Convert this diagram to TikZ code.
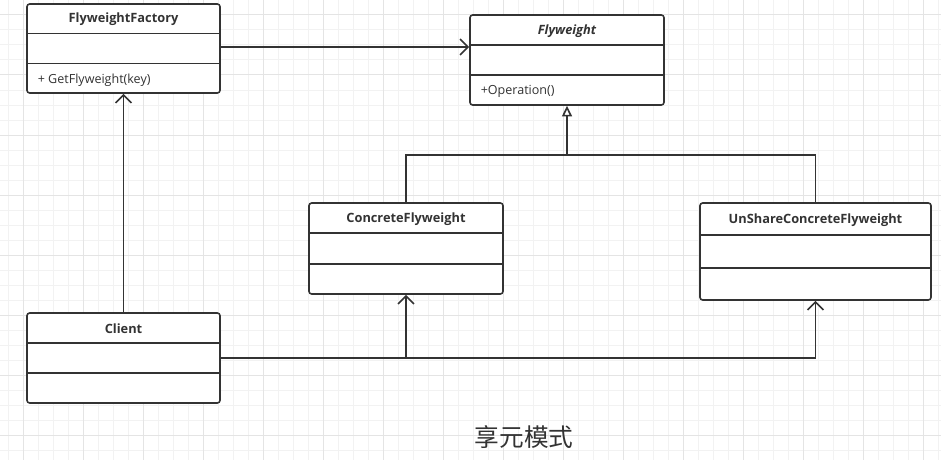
\documentclass[tikz,border=0pt]{standalone}
\usepackage{fontspec}
\setmainfont{Open Sans}
\newfontfamily\cjk{Noto Sans CJK SC}
\usetikzlibrary{arrows.meta,calc}
\definecolor{ink}{RGB}{51,51,51}
\definecolor{gridminor}{RGB}{242,242,242}
\definecolor{gridmajor}{RGB}{228,228,228}

\begin{document}
\begin{tikzpicture}[x=0.75pt, y=-0.75pt,
    cls/.style={rectangle, draw=ink, line width=1.2pt, rounded corners=2pt, fill=white, inner sep=0pt},
    ttl/.style={font=\bfseries\fontsize{9.6}{11}\selectfont, text=ink},
    opr/.style={font=\fontsize{9.4}{11}\selectfont, text=ink, anchor=west, inner xsep=0pt, xshift=8.5pt},
    link/.style={draw=ink, line width=1.2pt},
    dep/.style={link, -{Straight Barb[length=6pt, width=12pt, line width=1.2pt]}},
    inh/.style={link, -{Triangle[open, length=8pt, width=7.5pt, fill=white]}}
]
    % background grid
    \useasboundingbox (0,0) rectangle (941,460);
    \fill[white] (0,0) rectangle (941,460);
    \foreach \x in {8,23,...,941} \draw[gridminor, line width=0.75pt] (\x,0) -- (\x,460);
    \foreach \y in {0,15,...,460} \draw[gridminor, line width=0.75pt] (0,\y) -- (941,\y);
    \foreach \x in {23,83,...,941} \draw[gridmajor, line width=0.75pt] (\x,0) -- (\x,460);
    \foreach \y in {15,75,...,460} \draw[gridmajor, line width=0.75pt] (0,\y) -- (941,\y);

    % classes
    \node[cls, minimum width=144.75pt, minimum height=66.75pt] (fac) at (123.5,48.5) {};
    \node[cls, minimum width=145.5pt, minimum height=67.5pt] (fly) at (567,60) {};
    \node[cls, minimum width=145.5pt, minimum height=68.25pt] (con) at (406,248.5) {};
    \node[cls, minimum width=173.25pt, minimum height=72.75pt] (uns) at (815.5,251.5) {};
    \node[cls, minimum width=144.75pt, minimum height=67.5pt] (cli) at (123.5,358) {};
    \foreach \c in {fac,fly,con,uns,cli} {
        \draw[link] ($(\c.north west)!1/3!(\c.south west)$) -- ($(\c.north east)!1/3!(\c.south east)$);
        \draw[link] ($(\c.north west)!2/3!(\c.south west)$) -- ($(\c.north east)!2/3!(\c.south east)$);
    }

    % names and operations
    \node[ttl, yshift=-1pt] (facname) at ($(fac.north)!1/6!(fac.south)$) {FlyweightFactory};
    \node[ttl, yshift=-1pt, font=\bfseries\itshape\fontsize{9.6}{11}\selectfont] (flyname) at ($(fly.north)!1/6!(fly.south)$) {Flyweight};
    \node[ttl, yshift=-1pt] (conname) at ($(con.north)!1/6!(con.south)$) {ConcreteFlyweight};
    \node[ttl, yshift=-1pt] (unsname) at ($(uns.north)!1/6!(uns.south)$) {UnShareConcreteFlyweight};
    \node[ttl, yshift=-1pt] (cliname) at ($(cli.north)!1/6!(cli.south)$) {Client};
    \node[opr, yshift=-1pt] (facop) at ($(fac.north west)!5/6!(fac.south west)$) {+ GetFlyweight(key)};
    \node[opr, yshift=-1pt] (flyop) at ($(fly.north west)!5/6!(fly.south west)$) {+Operation()};

    % connectors
    \draw[dep] (fac.east |- 0,47) -- (fly.west |- 0,47);
    \draw[dep] (cli.north) -- (fac.south);
    \coordinate (join) at (fly.south |- 0,155);
    \draw[link] (con.north) |- (join);
    \draw[link] (uns.north) |- (join);
    \draw[inh] (join) -- (fly.south);
    \draw[dep] (cli.east) -| (uns.south);
    \coordinate (split) at (con.south |- cli.east);
    \draw[dep] (split) -- (con.south);

    \node[font=\cjk\fontsize{18.5}{22}\selectfont, text=ink] (caption) at (524,437) {享元模式};
\end{tikzpicture}
\end{document}
